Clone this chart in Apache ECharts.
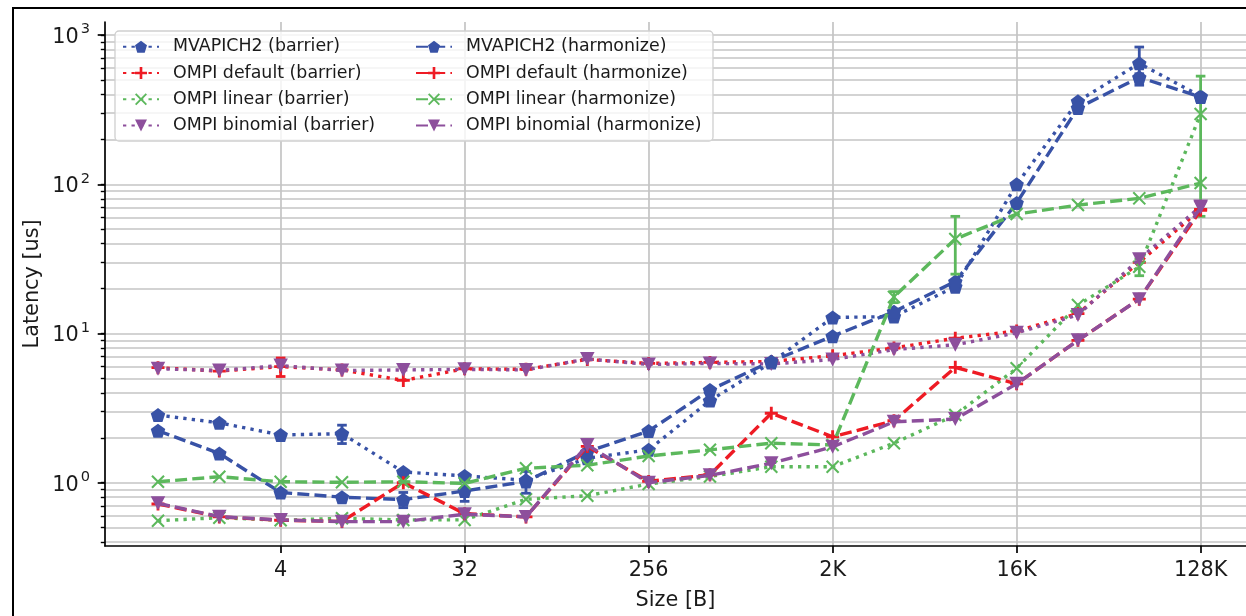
<!DOCTYPE html>
<html>
<head>
<meta charset="utf-8">
<script src="https://cdn.jsdelivr.net/npm/echarts@6/dist/echarts.min.js"></script>
<style>html,body{margin:0;padding:0;background:#fff}#c{width:1246px;height:616px}</style>
</head>
<body>
<div id="c"></div>
<script>
// ---- data ----
const sizes = [1,2,4,8,16,32,64,128,256,512,1024,2048,4096,8192,16384,32768,65536,131072];
const xTickValues = [4,32,256,2048,16384,131072];
const yMajorTicks = [1,10,100,1000];
const yMinorTicks = [0.4,0.5,0.6,0.7,0.8,0.9,2,3,4,5,6,7,8,9,20,30,40,50,60,70,80,90,200,300,400,500,600,700,800,900];

const seriesNames = [
  'MVAPICH2 (barrier)','OMPI default (barrier)','OMPI linear (barrier)','OMPI binomial (barrier)',
  'MVAPICH2 (harmonize)','OMPI default (harmonize)','OMPI linear (harmonize)','OMPI binomial (harmonize)'
];

const mvapichBarrier  = [2.84,2.52,2.09,2.13,1.18,1.11,1.04,1.46,1.66,3.55,6.4,12.8,13.0,20.6,100,360,647,390];
const defaultBarrier  = [5.9,5.6,6.0,5.7,4.85,5.8,5.75,6.7,6.3,6.4,6.5,7.1,8.0,9.3,10.4,13.6,30,68];
const linearBarrier   = [0.556,0.583,0.56,0.577,0.563,0.563,0.774,0.818,0.98,1.1,1.28,1.28,1.84,2.84,5.84,15.5,28,296];
const binomialBarrier = [5.8,5.65,6.1,5.65,5.7,5.75,5.7,6.75,6.2,6.3,6.25,6.7,7.8,8.4,10.1,13.3,31.5,71];
const mvapichHarm     = [2.23,1.57,0.86,0.80,0.77,0.88,1.02,1.61,2.22,4.18,6.5,9.6,14.0,22.3,75,325,521,385];
const defaultHarm     = [0.72,0.59,0.56,0.55,1.0,0.62,0.59,1.75,1.02,1.13,2.92,2.03,2.6,5.93,4.6,9.0,17,67];
const linearHarm      = [1.015,1.097,1.015,1.006,1.015,0.99,1.25,1.31,1.51,1.66,1.84,1.79,17.6,43,63.2,72.6,80.5,102];
const binomialHarm    = [0.728,0.592,0.563,0.548,0.548,0.615,0.59,1.79,1.0,1.12,1.35,1.74,2.56,2.67,4.6,9.0,17,70];

// symmetric error (0 = negligible)
const mvapichBarrierErr  = [0,0,0,0.3,0,0,0,0,0,0,0,0,0,0,0,0,185,0];
const defaultBarrierErr  = [0,0,0.85,0,0,0,0,0,0,0,0,0,0,0,0,0,0,0];
const linearBarrierErr   = [0,0,0,0,0,0,0,0,0,0,0,0,0,0,0,0,3.6,235];
const binomialBarrierErr = [0,0,0,0,0,0,0,0,0,0,0,0,0,0,0,0,0,0];
const mvapichHarmErr     = [0,0,0,0,0.09,0.13,0.17,0,0,0,0,0,0,0,0,0,30,0];
const defaultHarmErr     = [0,0,0,0,0,0,0,0,0,0,0,0,0,0,0,0,0,0];
const linearHarmErr      = [0,0,0,0,0,0,0,0,0,0,0,0,1.5,18,0,0,0,0];
const binomialHarmErr    = [0,0,0,0,0,0,0,0,0,0,0,0,0,0,0,0,0,0];

// ---- styling ----
const BLUE='#3852a6', RED='#ee1b24', GREEN='#5cb85c', PURPLE='#8d4f9c';
const FONT='DejaVu Sans';
const PENT='path://M0,-1 L0.951,-0.309 L0.588,0.809 L-0.588,0.809 L-0.951,-0.309 Z';
const PLUS='path://M-0.22,-1 L0.22,-1 L0.22,-0.22 L1,-0.22 L1,0.22 L0.22,0.22 L0.22,1 L-0.22,1 L-0.22,0.22 L-1,0.22 L-1,-0.22 L-0.22,-0.22 Z';
const XMARK='path://M-1,-0.78 L-0.78,-1 L0,-0.22 L0.78,-1 L1,-0.78 L0.22,0 L1,0.78 L0.78,1 L0,0.22 L-0.78,1 L-1,0.78 L-0.22,0 Z';
const TRI='path://M-1,-1 L1,-1 L0,0.9 Z';
const DOT=[3.3,5.2], DASH=[12,5.2];

const defs = [
  {vals: mvapichBarrier, err: mvapichBarrierErr, color: BLUE, dash: DOT, sym: PENT, size:[14.5,14]},
  {vals: defaultBarrier, err: defaultBarrierErr, color: RED, dash: DOT, sym: PLUS, size:[13,13]},
  {vals: linearBarrier, err: linearBarrierErr, color: GREEN, dash: DOT, sym: XMARK, size:[13.5,13.5]},
  {vals: binomialBarrier, err: binomialBarrierErr, color: PURPLE, dash: DOT, sym: TRI, size:[14.5,14]},
  {vals: mvapichHarm, err: mvapichHarmErr, color: BLUE, dash: DASH, sym: PENT, size:[14.5,14]},
  {vals: defaultHarm, err: defaultHarmErr, color: RED, dash: DASH, sym: PLUS, size:[13,13]},
  {vals: linearHarm, err: linearHarmErr, color: GREEN, dash: DASH, sym: XMARK, size:[13.5,13.5]},
  {vals: binomialHarm, err: binomialHarmErr, color: PURPLE, dash: DASH, sym: TRI, size:[14.5,14]}
];

const series = [];
defs.forEach((d, i) => {
  series.push({
    type: 'line', name: seriesNames[i],
    data: sizes.map((s, k) => [s, d.vals[k]]),
    symbol: d.sym, symbolSize: d.size,
    lineStyle: {color: d.color, width: 3.4, type: d.dash, cap: 'butt'},
    itemStyle: {color: d.color},
    z: 2 + i * 0.01, animation: false
  });
  const errData = [];
  sizes.forEach((s, k) => { if (d.err[k] > 0) errData.push([s, d.vals[k] - d.err[k], d.vals[k] + d.err[k]]); });
  if (errData.length) {
    const col = d.color;
    series.push({
      type: 'custom', name: 'err' + i, data: errData,
      encode: {x: 0, y: [1, 2]}, z: 2 + i * 0.01, animation: false, silent: true,
      renderItem: function (params, api) {
        const x = api.value(0);
        const p1 = api.coord([x, api.value(1)]);
        const p2 = api.coord([x, api.value(2)]);
        const c = 4.8;
        const st = {stroke: col, lineWidth: 2.8};
        return {type: 'group', children: [
          {type: 'line', shape: {x1: p1[0], y1: p1[1], x2: p2[0], y2: p2[1]}, style: st},
          {type: 'line', shape: {x1: p1[0]-c, y1: p1[1], x2: p1[0]+c, y2: p1[1]}, style: st},
          {type: 'line', shape: {x1: p2[0]-c, y1: p2[1], x2: p2[0]+c, y2: p2[1]}, style: st}
        ]};
      }
    });
  }
});

const xFmt = v => { const r = Math.round(v); return r >= 1024 ? (r / 1024) + 'K' : String(r); };
const yFmt = v => '{b|10}{s|' + Math.round(Math.log10(v)) + '}';

const Y_MIN = Math.pow(10, -0.4223), Y_MAX = Math.pow(10, 3.088);
const X_MIN = Math.pow(2, -0.864), X_MAX = Math.pow(2, 17.74);

const legendCommon = {
  orient: 'vertical', top: 37.7, itemWidth: 36, itemHeight: 15, itemGap: 8.3, padding: 0,
  textStyle: {fontFamily: FONT, fontSize: 17.4, color: '#1a1a1a', lineHeight: 18, padding: [0,0,0,9]}
};

const option = {
  backgroundColor: '#fff',
  animation: false,
  grid: {left: 105, top: 22, right: 0, bottom: 70.3},
  xAxis: [{
    type: 'log', logBase: 2, min: X_MIN, max: X_MAX,
    axisLine: {show: true, onZero: false, lineStyle: {color: '#000', width: 1.7}},
    axisTick: {show: true, length: 7.3, customValues: xTickValues, lineStyle: {color: '#000', width: 1.7}},
    axisLabel: {customValues: xTickValues, formatter: xFmt, margin: 14, fontFamily: FONT, fontSize: 20.8, color: '#1a1a1a'},
    splitLine: {show: true, lineStyle: {color: '#c4c4c4', width: 1.7}},
    minorTick: {show: false}, minorSplitLine: {show: false},
    name: 'Size [B]', nameLocation: 'middle', nameGap: 44,
    nameTextStyle: {fontFamily: FONT, fontSize: 20.8, color: '#1a1a1a'}
  }],
  yAxis: [{
    type: 'log', logBase: 10, min: Y_MIN, max: Y_MAX,
    axisLine: {show: true, onZero: false, lineStyle: {color: '#000', width: 1.7}},
    axisTick: {show: true, length: 4.2, customValues: yMinorTicks.concat(yMajorTicks), lineStyle: {color: '#000', width: 1.4}},
    axisLabel: {show: false},
    splitLine: {show: true, lineStyle: {color: '#c4c4c4', width: 1.7}},
    name: 'Latency [us]', nameLocation: 'middle', nameGap: 62,
    nameTextStyle: {fontFamily: FONT, fontSize: 20.8, color: '#1a1a1a'}
  }, {
    type: 'log', logBase: 10, min: Y_MIN, max: Y_MAX, position: 'left',
    axisLine: {show: false},
    axisTick: {show: true, length: 7.3, customValues: yMajorTicks, lineStyle: {color: '#000', width: 1.7}},
    axisLabel: {customValues: yMajorTicks, formatter: yFmt, margin: 15, color: '#1a1a1a',
      rich: {
        b: {fontFamily: FONT, fontSize: 20.8, color: '#1a1a1a', lineHeight: 26, verticalAlign: 'bottom'},
        s: {fontFamily: FONT, fontSize: 14.6, color: '#1a1a1a', lineHeight: 14, verticalAlign: 'top', padding: [0,0,0,2]}
      }},
    splitLine: {show: false}
  }],
  legend: [
    Object.assign({}, legendCommon, {left: 122, data: seriesNames.slice(0, 4)}),
    Object.assign({}, legendCommon, {left: 415, data: seriesNames.slice(4)})
  ],
  graphic: [
    {type: 'rect', z: 3, shape: {x: 115, y: 31, width: 598, height: 110, r: 4},
     style: {fill: 'rgba(255,255,255,0.8)', stroke: '#cfcfcf', lineWidth: 1.3}},
    {type: 'rect', z: 10, shape: {x: 13, y: 8, width: 1260, height: 640},
     style: {fill: 'none', stroke: '#000', lineWidth: 2}}
  ],
  series: series
};

const chart = echarts.init(document.getElementById('c'), null, {renderer: 'canvas'});
chart.setOption(option);
</script>
</body>
</html>
